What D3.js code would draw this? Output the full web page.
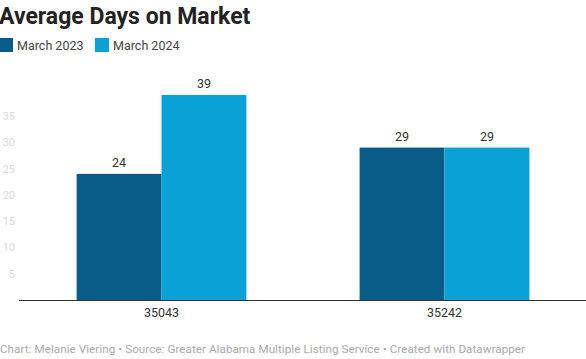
<!DOCTYPE html>
<html lang="en">
<head>
  <meta charset="UTF-8">
  <title>Average Days on Market</title>
  <script src="https://cdn.jsdelivr.net/npm/d3@7"></script>
  <style>
    body { margin: 0; background: #fff; font-family: Roboto, 'Noto Sans', sans-serif; }
  </style>
</head>
<body>
<div id="grafica"></div>
<script>
// data
categorias = ['35043', '35242']
series = ['March 2023', 'March 2024']
valores2023 = [24, 29]
valores2024 = [39, 29]
yTicks = [5, 10, 15, 20, 25, 30, 35]
colores = ['#0a5c88', '#0aa2d6']

ancho_total = 586
alto_total = 359

svg = d3.select('#grafica')
  .append('svg')
  .attr('width', ancho_total)
  .attr('height', alto_total)

// title
svg.append('text')
  .attr('x', -1).attr('y', 24)
  .attr('font-size', 23).attr('font-weight', 700)
  .attr('fill', '#222')
  .text('Average Days on Market')

// legend
leg = svg.append('g').attr('transform', 'translate(0, 38)')
series.forEach((s, i) => {
  lx = i === 0 ? -1 : 95
  leg.append('rect').attr('x', lx).attr('y', 0).attr('width', 14).attr('height', 14).attr('fill', colores[i])
  leg.append('text').attr('x', lx + 18).attr('y', 11.5)
    .attr('font-size', 12.5).attr('fill', '#444').text(s)
})

base = 300
x = d3.scaleBand().domain(categorias).range([20, 586]).paddingInner(0.4).paddingOuter(0.2)
xs = d3.scaleBand().domain(series).range([0, x.bandwidth()])
y = d3.scaleLinear().domain([0, 39]).range([base, 95])

// y tick labels (faint)
svg.selectAll('.ytick').data(yTicks).enter().append('text')
  .attr('x', 15).attr('y', d => y(d) + 4)
  .attr('text-anchor', 'end')
  .attr('font-size', 11).attr('fill', '#dadada')
  .text(d => d)

datos = []
categorias.forEach((c, i) => {
  datos.push({ cat: c, serie: series[0], v: valores2023[i], col: colores[0] })
  datos.push({ cat: c, serie: series[1], v: valores2024[i], col: colores[1] })
})

svg.selectAll('.bar').data(datos).enter().append('rect')
  .attr('x', d => x(d.cat) + xs(d.serie))
  .attr('y', d => y(d.v))
  .attr('width', xs.bandwidth())
  .attr('height', d => base - y(d.v))
  .attr('fill', d => d.col)

svg.selectAll('.lbl').data(datos).enter().append('text')
  .attr('x', d => x(d.cat) + xs(d.serie) + xs.bandwidth() / 2)
  .attr('y', d => y(d.v) - 7)
  .attr('text-anchor', 'middle')
  .attr('font-size', 12.5).attr('fill', '#333')
  .text(d => d.v)

// baseline
svg.append('line')
  .attr('x1', 19).attr('x2', 586)
  .attr('y1', base + 0.5).attr('y2', base + 0.5)
  .attr('stroke', '#333').attr('stroke-width', 1)

// category labels
svg.selectAll('.cat').data(categorias).enter().append('text')
  .attr('x', d => x(d) + x.bandwidth() / 2)
  .attr('y', base + 17)
  .attr('text-anchor', 'middle')
  .attr('font-size', 12.5).attr('fill', '#333')
  .text(d => d)

// footer
svg.append('text')
  .attr('x', 0).attr('y', 353)
  .attr('font-size', 11.6).attr('fill', '#aaa')
  .attr('textLength', 525).attr('lengthAdjust', 'spacing')
  .text('Chart: Melanie Viering • Source: Greater Alabama Multiple Listing Service • Created with Datawrapper')
</script>
</body>
</html>
